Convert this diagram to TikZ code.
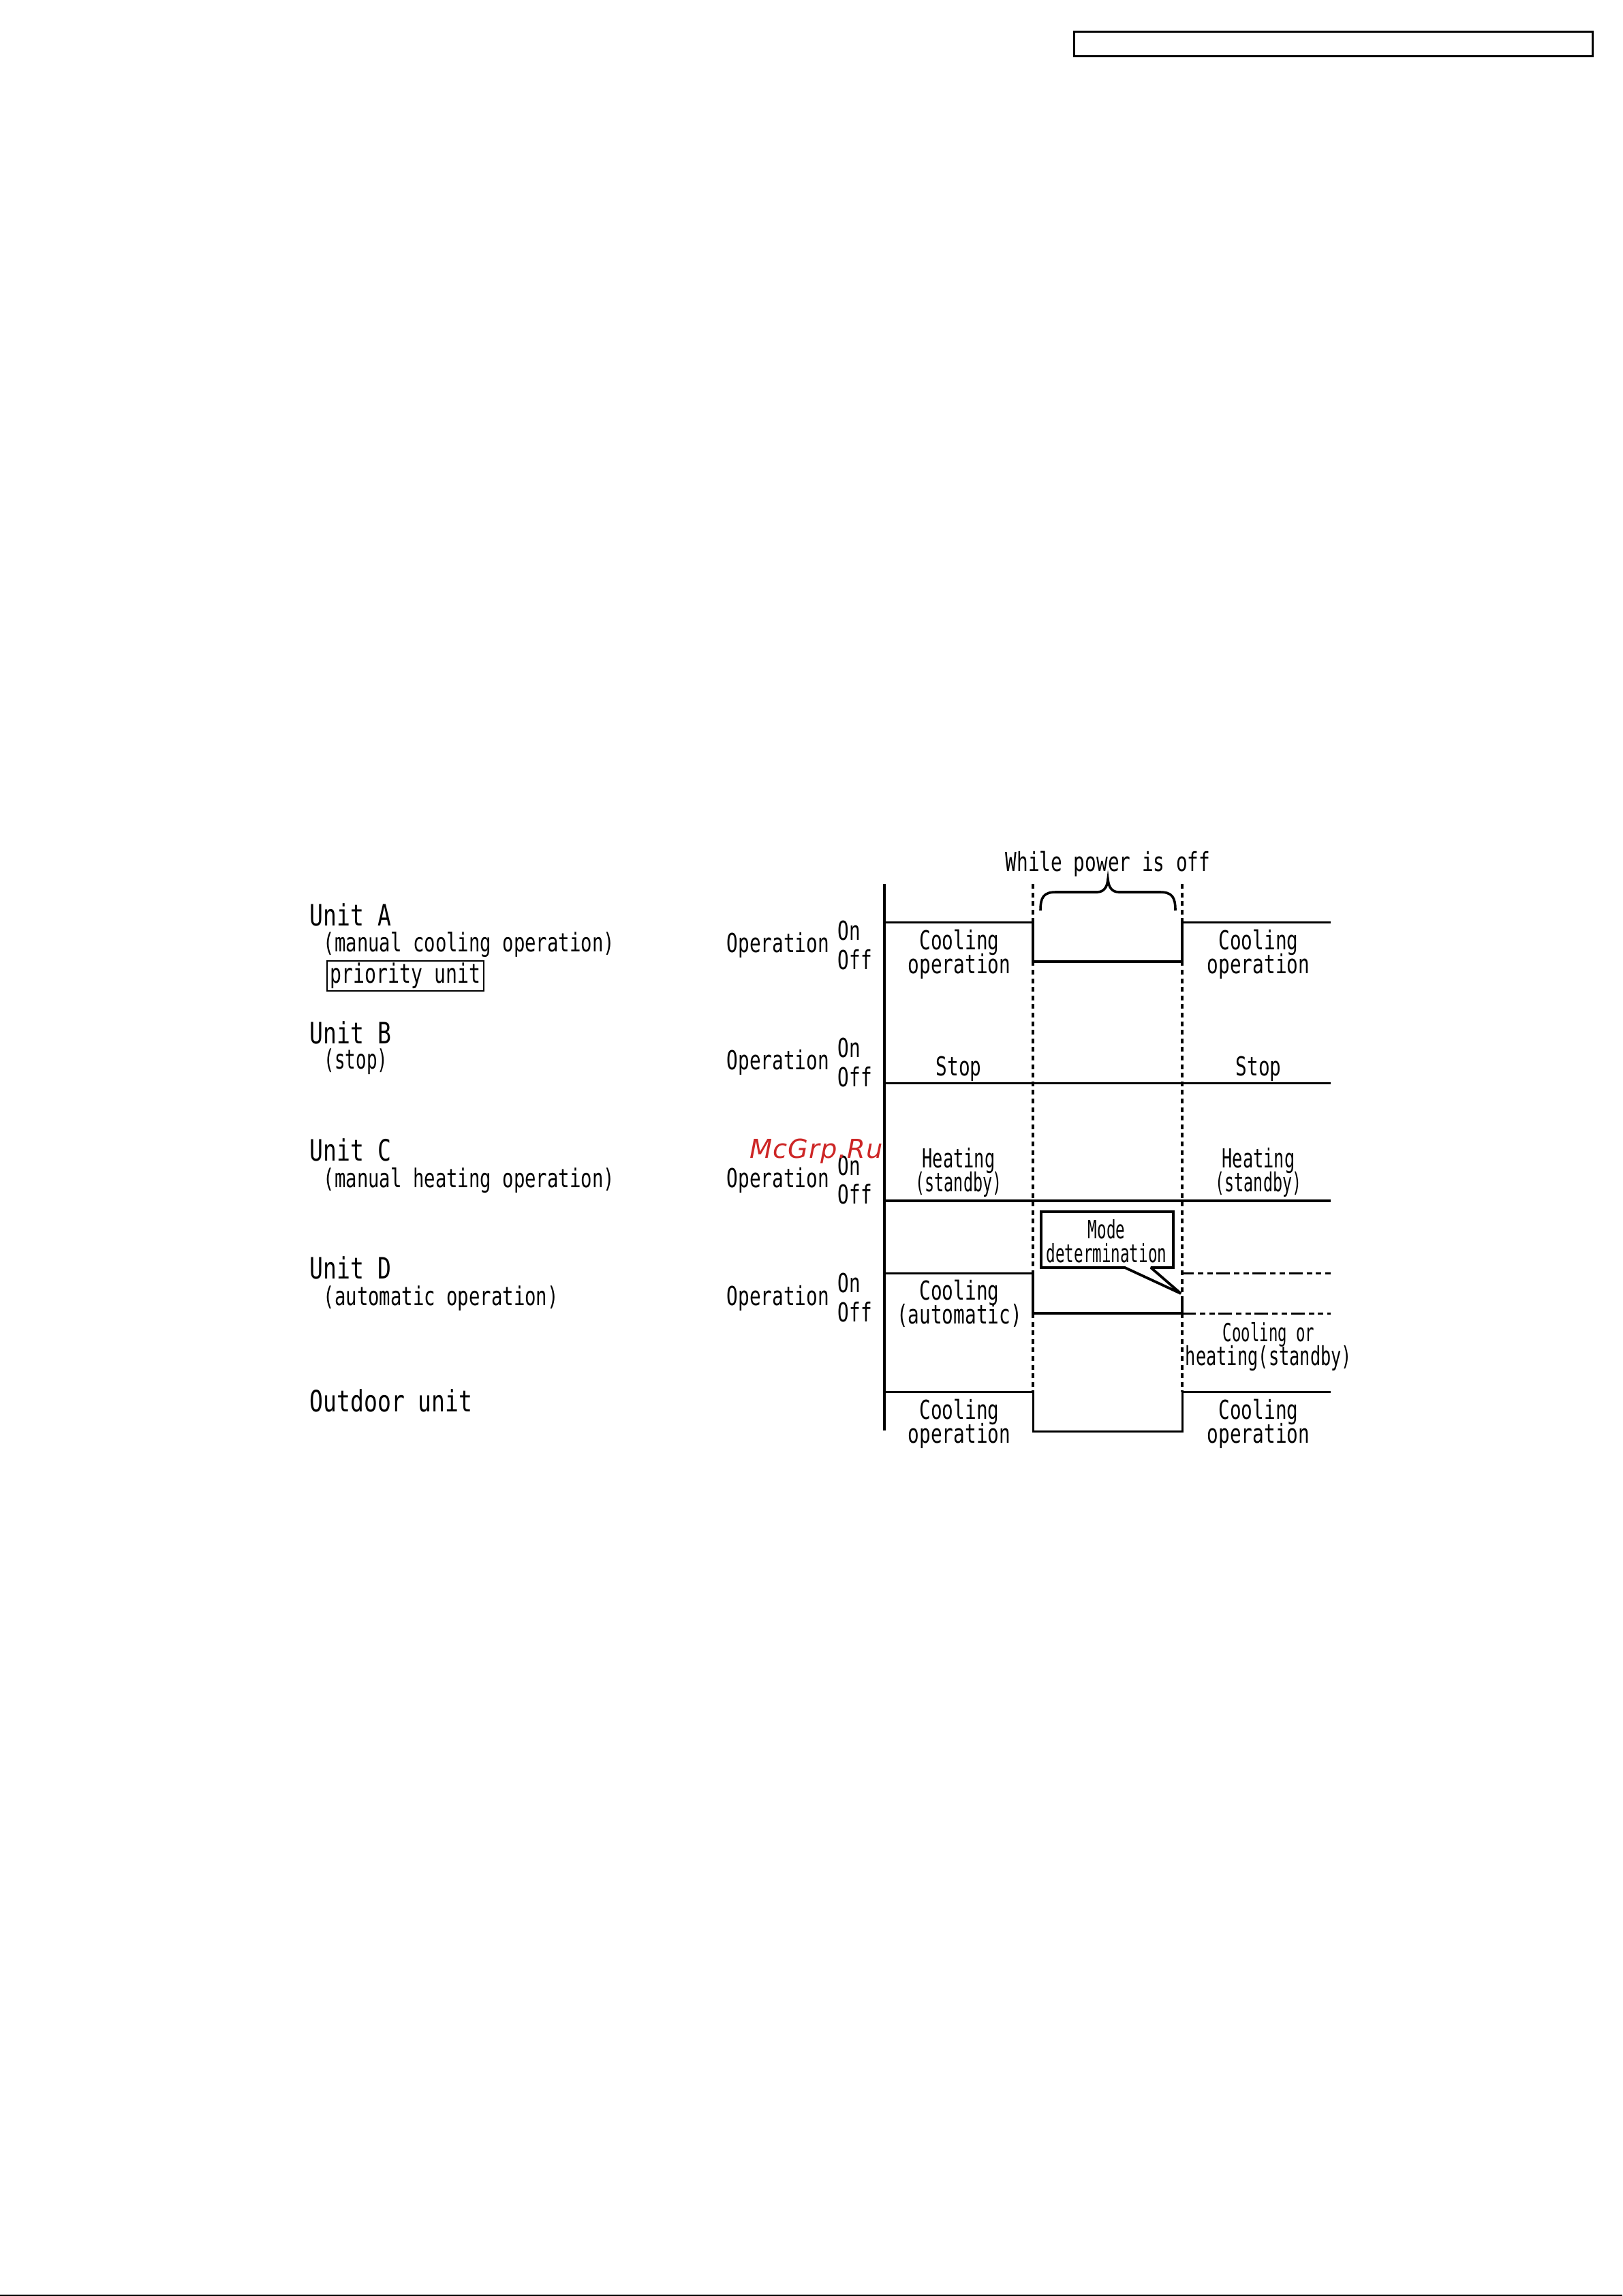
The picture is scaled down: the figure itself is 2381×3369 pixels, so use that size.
\documentclass[tikz,border=0pt]{standalone}
\usepackage{fontspec}
\newfontfamily\unitfont[FakeStretch=0.765]{DejaVu Sans Mono}
\newfontfamily\plainfont[FakeStretch=0.722]{DejaVu Sans Mono}
\newfontfamily\smallfont[FakeStretch=0.66]{DejaVu Sans Mono}
\newfontfamily\modefont[FakeStretch=0.61]{DejaVu Sans Mono}
\newfontfamily\markfont[LetterSpace=3]{DejaVu Sans}
\definecolor{markred}{RGB}{205,38,38}
\newcommand{\tightlines}{\lineskiplimit=-5pt\relax}
\tikzset{
	unitname/.style={anchor=west, inner sep=0pt, font=\unitfont\fontsize{10.8pt}{10pt}\selectfont},
	txt/.style={inner sep=0pt, align=center, font=\plainfont\fontsize{9.6pt}{8.8pt}\selectfont\tightlines},
	sidetxt/.style={txt, anchor=west},
	subtxt/.style={sidetxt, font=\plainfont\fontsize{9.45pt}{8.8pt}\selectfont},
	wave/.style={line width=0.75pt, line join=miter},
	heavy/.style={line width=1pt, line join=miter},
	axis/.style={line width=1.15pt},
	gap/.style={line width=0.95pt, dash pattern=on 1.75pt off 1.4pt},
	maybe/.style={line width=0.75pt, dash pattern=on 5pt off 1.5pt on 2pt off 1.4pt on 2pt off 1.4pt}
}

\begin{document}
\begin{tikzpicture}[x=0.25pt, y=-0.25pt]
	\useasboundingbox (0,0) rectangle (2381,3369);
	\node [draw, line width=0.75pt, minimum width=761pt/4, minimum height=36pt/4, inner sep=0pt, anchor=north west] (Head) at (1575,45) {};

	\node [unitname] (UnitA) at (454,1342) {Unit A};
	\node [subtxt] (ModeA) at (474,1386) {(manual cooling operation)};
	\node [txt, draw, line width=0.4pt, inner xsep=1pt, minimum height=44.5pt/4, minimum width=230pt/4, font=\plainfont\fontsize{9.75pt}{9pt}\selectfont] (Prio) at (595,1432) {priority unit};
	\node [unitname] (UnitB) at (454,1515) {Unit B};
	\node [subtxt, font=\smallfont\fontsize{9.8pt}{9pt}\selectfont] (ModeB) at (475,1558) {(stop)};
	\node [unitname] (UnitC) at (454,1687) {Unit C};
	\node [subtxt] (ModeC) at (474,1732) {(manual heating operation)};
	\node [unitname] (UnitD) at (454,1860) {Unit D};
	\node [subtxt] (ModeD) at (474,1905) {(automatic operation)};
	\node [unitname] (Outdoor) at (454,2055) {Outdoor unit};

	\node [sidetxt] (OpA) at (1066,1387) {Operation};
	\node [sidetxt] (OnA) at (1229,1366) {On};
	\node [sidetxt] (OffA) at (1229,1408) {Off};
	\node [sidetxt] (OpB) at (1066,1559) {Operation};
	\node [sidetxt] (OnB) at (1229,1538) {On};
	\node [sidetxt] (OffB) at (1229,1580) {Off};
	\node [sidetxt] (OpC) at (1066,1732) {Operation};
	\node [sidetxt] (OnC) at (1229,1711) {On};
	\node [sidetxt] (OffC) at (1229,1752) {Off};
	\node [sidetxt] (OpD) at (1066,1905) {Operation};
	\node [sidetxt] (OnD) at (1229,1883) {On};
	\node [sidetxt] (OffD) at (1229,1925) {Off};

	\draw [gap] (1516,1297) -- (1516,2042);
	\draw [gap] (1735,1297) -- (1735,2042);
	\draw [axis] (1298,1297) -- (1298,2099);

	\draw [wave] (1298,1353) -- (1516,1353);
	\draw [heavy] (1516,1353) -- (1516,1411) -- (1735,1411) -- (1735,1353);
	\draw [wave] (1735,1353) -- (1953,1353);
	\draw [wave] (1298,1589) -- (1953,1589);
	\draw [heavy, line width=1.15pt] (1298,1762) -- (1953,1762);
	\draw [wave] (1298,1868) -- (1516,1868);
	\draw [heavy] (1516,1868) -- (1516,1927) -- (1735,1927) -- (1735,1905);
	\draw [maybe, dash phase=0.75pt] (1735,1868) -- (1953,1868);
	\draw [maybe] (1735,1927) -- (1953,1927);
	\draw [wave] (1298,2042) -- (1516,2042) -- (1516,2100) -- (1735,2100) -- (1735,2042) -- (1953,2042);

	\draw [heavy, line width=0.9pt] (1527,1336) .. controls (1527,1316) and (1532,1309) .. (1550,1309) -- (1610,1309) .. controls (1620,1309) and (1625,1302) .. (1626,1290) .. controls (1627,1302) and (1632,1309) .. (1642,1309) -- (1702,1309) .. controls (1720,1309) and (1725,1316) .. (1725,1336);

	\draw [heavy, line width=0.95pt, miter limit=2, fill=white] (1528,1778) -- (1722,1778) -- (1722,1860) -- (1689,1860) -- (1733,1898) -- (1651,1860) -- (1528,1860) -- cycle;

	\node [txt] (Power) at (1626,1268) {While power is off};
	\node [txt] (CoolA1) at (1408,1400) {Cooling\\operation};
	\node [txt] (CoolA2) at (1847,1400) {Cooling\\operation};
	\node [txt] (StopB1) at (1407,1568) {Stop};
	\node [txt] (StopB2) at (1847,1568) {Stop};
	\node [txt] (HeatC1) at (1407,1720) {{\smallfont Heating}\\{\modefont (standby)}};
	\node [txt] (HeatC2) at (1847,1720) {{\smallfont Heating}\\{\modefont (standby)}};
	\node [txt] (CoolD) at (1408,1913) {Cooling\\(automatic)};
	\node [txt, font=\modefont\fontsize{9.25pt}{8.8pt}\selectfont\tightlines] (Mode) at (1624,1821) {Mode\\determination};
	\node [txt] (Either) at (1862,1976) {{\modefont\fontsize{9.15pt}{8.8pt}\selectfont Cooling or}\\{\smallfont heating(standby)}};
	\node [txt] (CoolO1) at (1408,2089) {Cooling\\operation};
	\node [txt] (CoolO2) at (1847,2089) {Cooling\\operation};

	\node [inner sep=0pt, text=markred, font=\markfont\itshape\fontsize{9.6pt}{10pt}\selectfont] (Mark) at (1198,1689) {McGrp.Ru};

	\draw [line width=0.5pt] (0,3368) -- (2381,3368);
\end{tikzpicture}
\end{document}
